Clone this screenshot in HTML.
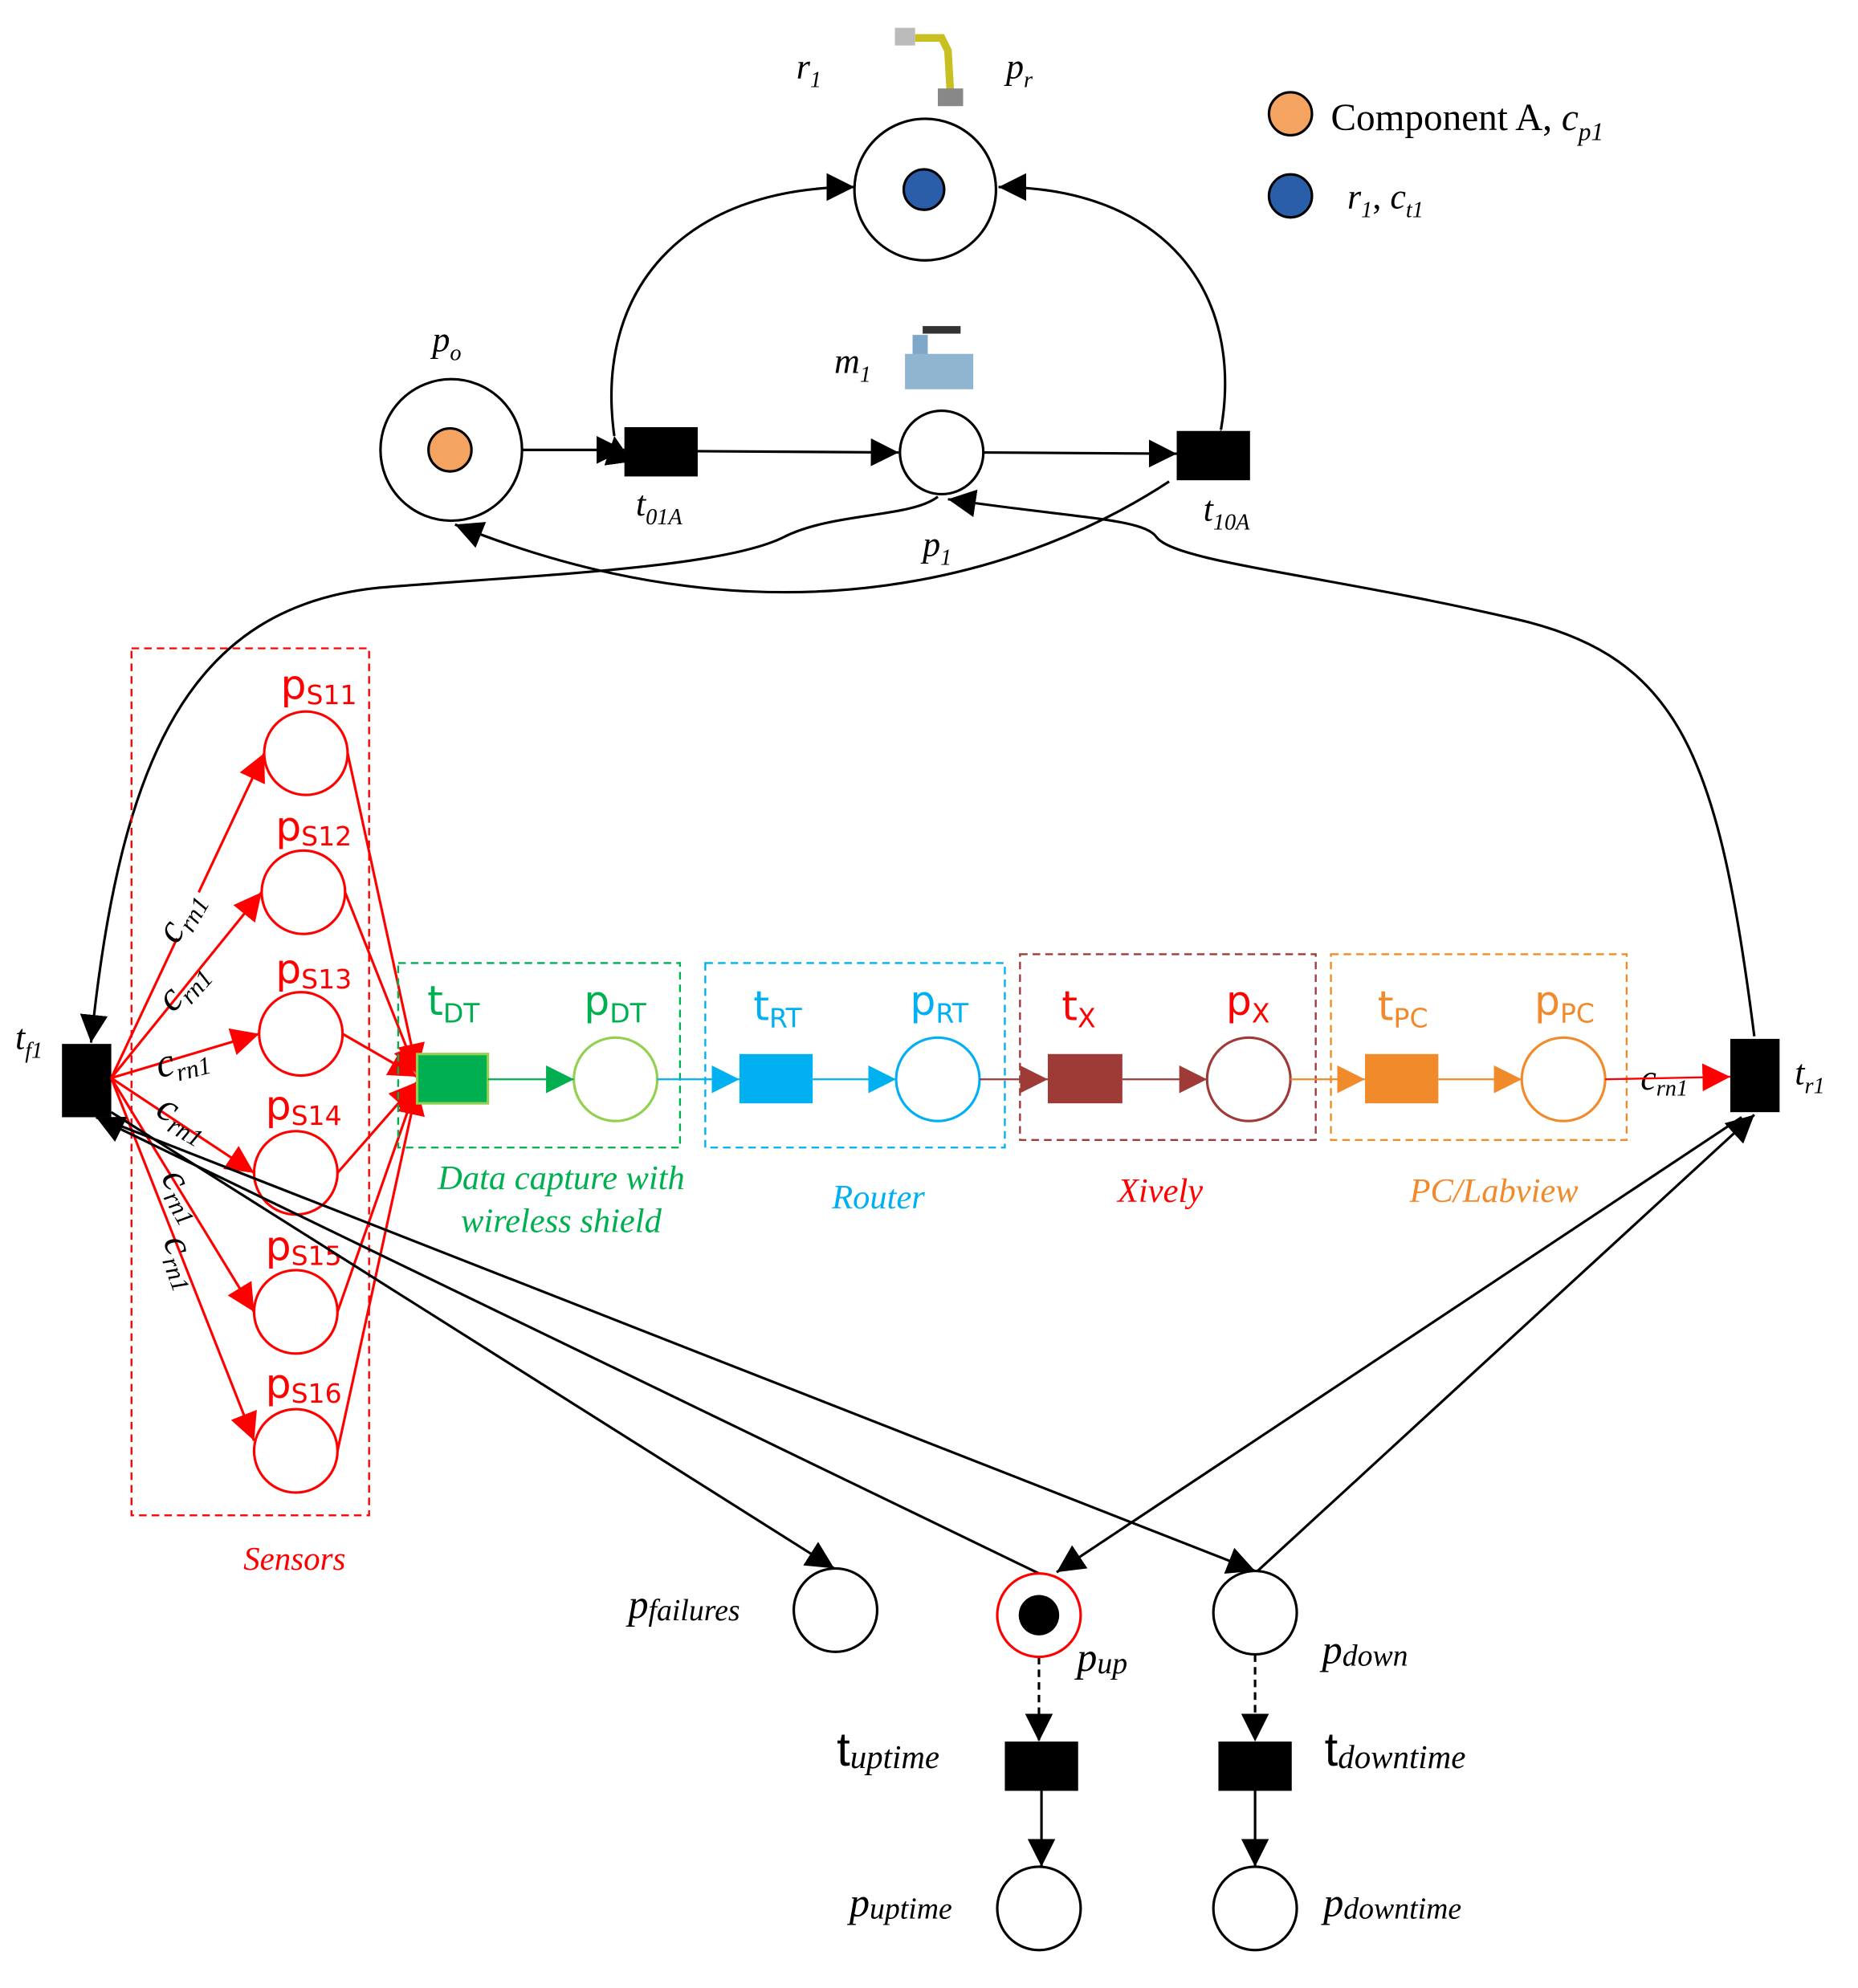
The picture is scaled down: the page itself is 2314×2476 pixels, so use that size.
<!DOCTYPE html>
<html><head><meta charset="utf-8"><style>
html,body{margin:0;padding:0;background:#fff}
svg{display:block}
.s{font-family:"Liberation Serif",serif;font-style:italic}
.k{font-family:"DejaVu Sans","Liberation Sans",sans-serif}
</style></head><body>
<svg width="2314" height="2476" viewBox="0 0 1470 1573" xmlns="http://www.w3.org/2000/svg">
<defs>
<marker id="ab" viewBox="0 0 10 10" refX="10" refY="5" markerWidth="22" markerHeight="22" markerUnits="userSpaceOnUse" orient="auto"><path d="M0,0L10,5L0,10z" fill="#000"/></marker>
<marker id="ar" viewBox="0 0 10 10" refX="10" refY="5" markerWidth="22" markerHeight="22" markerUnits="userSpaceOnUse" orient="auto"><path d="M0,0L10,5L0,10z" fill="#f00"/></marker>
<marker id="ag" viewBox="0 0 10 10" refX="10" refY="5" markerWidth="22" markerHeight="22" markerUnits="userSpaceOnUse" orient="auto"><path d="M0,0L10,5L0,10z" fill="#00b050"/></marker>
<marker id="ac" viewBox="0 0 10 10" refX="10" refY="5" markerWidth="22" markerHeight="22" markerUnits="userSpaceOnUse" orient="auto"><path d="M0,0L10,5L0,10z" fill="#00b0f0"/></marker>
<marker id="ax" viewBox="0 0 10 10" refX="10" refY="5" markerWidth="22" markerHeight="22" markerUnits="userSpaceOnUse" orient="auto"><path d="M0,0L10,5L0,10z" fill="#9e3b36"/></marker>
<marker id="ao" viewBox="0 0 10 10" refX="10" refY="5" markerWidth="22" markerHeight="22" markerUnits="userSpaceOnUse" orient="auto"><path d="M0,0L10,5L0,10z" fill="#f08a2a"/></marker>
</defs>

<g>
<rect x="708" y="22" width="16" height="14" fill="#bbb"/>
<path d="M724,30 L745,30 L750,40 L752,75" stroke="#c8c020" stroke-width="6" fill="none"/>
<rect x="742" y="70" width="20" height="14" fill="#888"/>
<rect x="722" y="265" width="12" height="25" fill="#7fa8c8"/>
<rect x="716" y="280" width="54" height="28" fill="#8fb5d0"/>
<rect x="730" y="258" width="30" height="6" fill="#333"/>
</g>

<circle cx="1021" cy="90" r="17" fill="#f4a460" stroke="#000" stroke-width="2"/>
<text x="1053" y="103" class="s" style="font-style:normal" font-size="30">Component A, <tspan font-style="italic">c</tspan><tspan font-style="italic" font-size="20" dy="8">p1</tspan></text>
<circle cx="1021" cy="155" r="17" fill="#2a5ea8" stroke="#000" stroke-width="2"/>
<text x="1066" y="165" class="s" font-size="28">r<tspan font-size="18" dy="7">1</tspan><tspan dy="-7" font-style="normal">, </tspan>c<tspan font-size="18" dy="7">t1</tspan></text>

<circle cx="732" cy="150" r="56" fill="none" stroke="#000" stroke-width="2"/>
<circle cx="731" cy="150" r="16" fill="#2a5ea8" stroke="#000" stroke-width="2"/>
<circle cx="357" cy="356" r="56" fill="none" stroke="#000" stroke-width="2"/>
<circle cx="356" cy="356" r="17" fill="#f4a460" stroke="#000" stroke-width="2"/>
<circle cx="745" cy="358" r="33" fill="none" stroke="#000" stroke-width="2"/>
<rect x="494" y="338" width="58" height="39" fill="#000"/>
<rect x="931" y="341" width="58" height="39" fill="#000"/>

<g class="s" font-size="28">
<text x="630" y="62">r<tspan font-size="18" dy="7">1</tspan></text>
<text x="796" y="62">p<tspan font-size="18" dy="7">r</tspan></text>
<text x="342" y="278">p<tspan font-size="18" dy="7">o</tspan></text>
<text x="660" y="295">m<tspan font-size="18" dy="7">1</tspan></text>
<text x="503" y="408">t<tspan font-size="18" dy="7">01A</tspan></text>
<text x="730" y="440">p<tspan font-size="18" dy="7">1</tspan></text>
<text x="952" y="412">t<tspan font-size="18" dy="7">10A</tspan></text>
</g>

<g stroke="#000" stroke-width="2" fill="none">
<line x1="413" y1="356" x2="494" y2="356" marker-end="url(#ab)"/>
<line x1="552" y1="357" x2="711" y2="358" marker-end="url(#ab)"/>
<line x1="778" y1="358" x2="931" y2="359" marker-end="url(#ab)"/>
<path d="M486,345 C470,230 540,148 676,148" marker-start="url(#ab)" marker-end="url(#ab)"/>
<path d="M966,340 C985,230 920,148 790,148" marker-start="url(#ab)" marker-end="url(#ab)"/>
<path d="M925,381 C820,450 620,520 360,415" marker-end="url(#ab)"/>
<path d="M742,393 C720,410 660,405 620,425 C570,450 420,455 300,465 C150,480 95,600 72,825" marker-end="url(#ab)"/>
<path d="M1388,820 C1360,600 1330,520 1200,490 C1050,455 930,445 915,425 C905,410 850,410 750,395" marker-end="url(#ab)"/>
</g>

<rect x="49" y="826" width="39" height="58" fill="#000"/>
<rect x="1369" y="822" width="39" height="58" fill="#000"/>
<text x="12" y="830" class="s" font-size="28">t<tspan font-size="18" dy="7">f1</tspan></text>
<text x="1420" y="858" class="s" font-size="28">t<tspan font-size="18" dy="7">r1</tspan></text>

<rect x="104" y="513" width="188" height="686" fill="none" stroke="#f00" stroke-width="1.5" stroke-dasharray="6,4"/>
<g stroke="#f00" stroke-width="2" fill="none">
<circle cx="242" cy="596" r="33"/><circle cx="240" cy="706" r="33"/><circle cx="238" cy="818" r="33"/>
<circle cx="234" cy="928" r="33"/><circle cx="234" cy="1038" r="33"/><circle cx="234" cy="1148" r="33"/>
<line x1="88" y1="853" x2="209" y2="596" marker-end="url(#ar)"/>
<line x1="88" y1="853" x2="207" y2="706" marker-end="url(#ar)"/>
<line x1="88" y1="853" x2="205" y2="818" marker-end="url(#ar)"/>
<line x1="88" y1="853" x2="201" y2="928" marker-end="url(#ar)"/>
<line x1="88" y1="853" x2="201" y2="1038" marker-end="url(#ar)"/>
<line x1="88" y1="853" x2="201" y2="1140" marker-end="url(#ar)"/>
<line x1="275" y1="596" x2="330" y2="848" marker-end="url(#ar)"/>
<line x1="273" y1="706" x2="330" y2="850" marker-end="url(#ar)"/>
<line x1="271" y1="818" x2="330" y2="852" marker-end="url(#ar)"/>
<line x1="267" y1="928" x2="330" y2="856" marker-end="url(#ar)"/>
<line x1="267" y1="1038" x2="330" y2="858" marker-end="url(#ar)"/>
<line x1="267" y1="1148" x2="330" y2="860" marker-end="url(#ar)"/>
</g>
<g class="k" fill="#f00" font-size="32">
<text x="222" y="553">p<tspan font-size="21" dy="4">S11</tspan></text>
<text x="218" y="665">p<tspan font-size="21" dy="4">S12</tspan></text>
<text x="218" y="778">p<tspan font-size="21" dy="4">S13</tspan></text>
<text x="210" y="886">p<tspan font-size="21" dy="4">S14</tspan></text>
<text x="210" y="997">p<tspan font-size="21" dy="4">S15</tspan></text>
<text x="210" y="1106">p<tspan font-size="21" dy="4">S16</tspan></text>
</g>
<g class="s" font-size="32" fill="#000">
<g fill="#fff" stroke="none">
<rect x="130" y="705" width="40" height="40" transform="rotate(-60,150,725)"/>
</g>
<text transform="translate(140,748) rotate(-60)">c<tspan font-size="20" dy="6">rn1</tspan></text>
<text transform="translate(137,802) rotate(-48)">c<tspan font-size="20" dy="6">rn1</tspan></text>
<text transform="translate(126,853) rotate(-14)">c<tspan font-size="20" dy="6">rn1</tspan></text>
<text transform="translate(122,882) rotate(30)">c<tspan font-size="20" dy="6">rn1</tspan></text>
<text transform="translate(127,932) rotate(60)">c<tspan font-size="20" dy="6">rn1</tspan></text>
<text transform="translate(129,982) rotate(70)">c<tspan font-size="20" dy="6">rn1</tspan></text>
<text x="1298" y="862" font-size="28">c<tspan font-size="18" dy="5">rn1</tspan></text>
</g>
<text x="233" y="1242" class="s" font-size="26" fill="#f00" text-anchor="middle">Sensors</text>

<rect x="315" y="762" width="223" height="146" fill="none" stroke="#00b050" stroke-width="1.5" stroke-dasharray="6,4"/>
<rect x="330" y="834" width="56" height="39" fill="#00b050" stroke="#92d050" stroke-width="2"/>
<circle cx="487" cy="854" r="33" fill="none" stroke="#92d050" stroke-width="2"/>
<line x1="386" y1="854" x2="454" y2="854" stroke="#00b050" stroke-width="1.5" marker-end="url(#ag)"/>
<g class="k" font-size="32" fill="#00b050"><text x="338" y="803">t<tspan font-size="21" dy="6">DT</tspan></text><text x="462" y="803">p<tspan font-size="21" dy="6">DT</tspan></text></g>
<text x="444" y="941" class="s" font-size="27" fill="#00b050" text-anchor="middle">Data capture with</text>
<text x="444" y="975" class="s" font-size="27" fill="#00b050" text-anchor="middle">wireless shield</text>

<rect x="558" y="762" width="237" height="146" fill="none" stroke="#00b0f0" stroke-width="1.5" stroke-dasharray="6,4"/>
<line x1="520" y1="854" x2="585" y2="854" stroke="#00b0f0" stroke-width="1.5" marker-end="url(#ac)"/>
<rect x="585" y="834" width="58" height="39" fill="#00b0f0"/>
<circle cx="742" cy="854" r="33" fill="none" stroke="#00b0f0" stroke-width="2"/>
<line x1="643" y1="854" x2="709" y2="854" stroke="#00b0f0" stroke-width="1.5" marker-end="url(#ac)"/>
<g class="k" font-size="32" fill="#00b0f0"><text x="596" y="807">t<tspan font-size="21" dy="6">RT</tspan></text><text x="720" y="803">p<tspan font-size="21" dy="6">RT</tspan></text></g>
<text x="695" y="956" class="s" font-size="27" fill="#00b0f0" text-anchor="middle">Router</text>

<rect x="807" y="755" width="234" height="147" fill="none" stroke="#9e3b36" stroke-width="1.5" stroke-dasharray="6,4"/>
<line x1="775" y1="854" x2="829" y2="854" stroke="#9e3b36" stroke-width="1.5" marker-end="url(#ax)"/>
<rect x="829" y="834" width="59" height="39" fill="#9e3b36"/>
<circle cx="988" cy="854" r="33" fill="none" stroke="#9e3b36" stroke-width="2"/>
<line x1="888" y1="854" x2="955" y2="854" stroke="#9e3b36" stroke-width="1.5" marker-end="url(#ax)"/>
<g class="k" font-size="32" fill="#f00"><text x="840" y="807">t<tspan font-size="21" dy="6">X</tspan></text><text x="970" y="803">p<tspan font-size="21" dy="6">X</tspan></text></g>
<text x="918" y="951" class="s" font-size="27" fill="#f00" text-anchor="middle">Xively</text>

<rect x="1053" y="755" width="234" height="147" fill="none" stroke="#f08a2a" stroke-width="1.5" stroke-dasharray="6,4"/>
<line x1="1021" y1="854" x2="1080" y2="854" stroke="#f08a2a" stroke-width="1.5" marker-end="url(#ao)"/>
<rect x="1080" y="834" width="58" height="39" fill="#f08a2a"/>
<circle cx="1237" cy="854" r="33" fill="none" stroke="#f08a2a" stroke-width="2"/>
<line x1="1138" y1="854" x2="1204" y2="854" stroke="#f08a2a" stroke-width="1.5" marker-end="url(#ao)"/>
<g class="k" font-size="32" fill="#f08a2a"><text x="1090" y="807">t<tspan font-size="21" dy="6">PC</tspan></text><text x="1214" y="803">p<tspan font-size="21" dy="6">PC</tspan></text></g>
<text x="1182" y="951" class="s" font-size="27" fill="#f08a2a" text-anchor="middle">PC/Labview</text>
<line x1="1270" y1="854" x2="1369" y2="852" stroke="#f00" stroke-width="1.5" marker-end="url(#ar)"/>

<g stroke="#000" stroke-width="2" fill="none">
<circle cx="661" cy="1274" r="33"/>
<circle cx="993" cy="1276" r="33"/>
<circle cx="822" cy="1510" r="33"/>
<circle cx="993" cy="1510" r="33"/>
<line x1="88" y1="880" x2="660" y2="1241" marker-end="url(#ab)"/>
<line x1="822" y1="1245" x2="76" y2="884" marker-end="url(#ab)"/>
<line x1="88" y1="888" x2="993" y2="1243" marker-end="url(#ab)"/>
<line x1="1378" y1="884" x2="836" y2="1244" marker-end="url(#ab)"/>
<line x1="995" y1="1243" x2="1388" y2="882" marker-end="url(#ab)"/>
<line x1="822" y1="1311" x2="822" y2="1378" stroke-dasharray="6,4" marker-end="url(#ab)"/>
<line x1="993" y1="1309" x2="993" y2="1378" stroke-dasharray="6,4" marker-end="url(#ab)"/>
<line x1="824" y1="1417" x2="824" y2="1477" marker-end="url(#ab)"/>
<line x1="993" y1="1417" x2="993" y2="1477" marker-end="url(#ab)"/>
</g>
<circle cx="822" cy="1278" r="33" fill="none" stroke="#f00" stroke-width="2"/>
<circle cx="822" cy="1278" r="16" fill="#000"/>
<rect x="795" y="1378" width="58" height="39" fill="#000"/>
<rect x="964" y="1378" width="58" height="39" fill="#000"/>
<g class="s" font-size="32">
<text x="497" y="1280">p<tspan font-size="24" dy="2">failures</tspan></text>
<text x="852" y="1322">p<tspan font-size="24" dy="2">up</tspan></text>
<text x="1046" y="1316">p<tspan font-size="24" dy="2">down</tspan></text>
<text x="672" y="1516">p<tspan font-size="24" dy="2">uptime</tspan></text>
<text x="1047" y="1516">p<tspan font-size="24" dy="2">downtime</tspan></text>
</g>
<g font-family="'Liberation Sans',sans-serif" font-size="38">
<text x="662" y="1397">t<tspan class="s" font-size="26" dy="2">uptime</tspan></text>
<text x="1048" y="1397">t<tspan class="s" font-size="26" dy="2">downtime</tspan></text>
</g>
</svg>
</body></html>
